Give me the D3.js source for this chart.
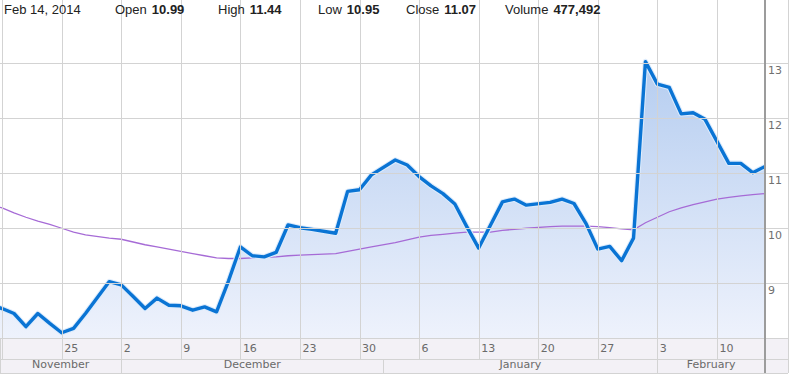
<!DOCTYPE html>
<html><head><meta charset="utf-8">
<script src="https://cdn.jsdelivr.net/npm/d3@7"></script>
<style>body{margin:0;background:#fff}svg{display:block}</style>
</head><body>
<svg id="c" width="794" height="375"></svg>
<script>
// ---------- data ----------
const dates = ["2013-11-15","2013-11-18","2013-11-19","2013-11-20","2013-11-21","2013-11-22",
"2013-11-25","2013-11-26","2013-11-27","2013-11-29",
"2013-12-02","2013-12-03","2013-12-04","2013-12-05","2013-12-06",
"2013-12-09","2013-12-10","2013-12-11","2013-12-12","2013-12-13",
"2013-12-16","2013-12-17","2013-12-18","2013-12-19","2013-12-20",
"2013-12-23","2013-12-24","2013-12-26","2013-12-27",
"2013-12-30","2013-12-31","2014-01-02","2014-01-03",
"2014-01-06","2014-01-07","2014-01-08","2014-01-09","2014-01-10",
"2014-01-13","2014-01-14","2014-01-15","2014-01-16","2014-01-17",
"2014-01-21","2014-01-22","2014-01-23","2014-01-24",
"2014-01-27","2014-01-28","2014-01-29","2014-01-30","2014-01-31",
"2014-02-03","2014-02-04","2014-02-05","2014-02-06","2014-02-07",
"2014-02-10","2014-02-11","2014-02-12","2014-02-13","2014-02-14"];
const closes = [8.60,8.53,8.44,8.20,8.44,8.26,
8.09,8.17,8.44,9.02,
8.96,8.75,8.53,8.72,8.59,
8.58,8.50,8.56,8.47,9.03,
9.65,9.49,9.47,9.55,10.05,
10.00,9.97,9.90,10.66,
10.69,10.96,11.23,11.14,
10.93,10.76,10.62,10.43,10.02,
9.63,10.05,10.47,10.52,10.41,
10.46,10.52,10.44,10.08,
9.61,9.66,9.40,9.81,13.02,
12.61,12.55,12.07,12.09,11.97,
11.57,11.17,11.17,11.00,11.11];
const movingAvg = [10.42,10.36,10.27,10.19,10.12,10.06,
9.99,9.92,9.87,9.81,
9.79,9.74,9.69,9.65,9.61,
9.57,9.53,9.49,9.45,9.44,
9.44,9.45,9.46,9.47,9.49,
9.50,9.51,9.53,9.57,
9.61,9.65,9.73,9.78,
9.83,9.86,9.88,9.90,9.92,
9.92,9.92,9.95,9.97,9.99,
10.02,10.03,10.03,10.03,
10.02,10.00,9.98,9.96,10.09,
10.19,10.29,10.36,10.42,10.47,
10.52,10.55,10.58,10.60,10.62];
const yTicks = [9,10,11,12,13];
const weekTicks = ["2013-11-18","2013-11-25","2013-12-02","2013-12-09","2013-12-16","2013-12-23","2013-12-30",
"2014-01-06","2014-01-13","2014-01-20","2014-01-27","2014-02-03","2014-02-10"];
const weekLabels = ["","25","2","9","16","23","30","6","13","20","27","3","10"];
const monthNames = ["November","December","January","February"];
const monthStarts = ["2013-11-01","2013-12-01","2014-01-01","2014-02-01"];
const headerDate = "Feb 14, 2014";
const headerLabels = ["Open","High","Low","Close","Volume"];
const headerValues = ["10.99","11.44","10.95","11.07","477,492"];

// ---------- helpers ----------
const parse = d3.utcParse("%Y-%m-%d");
const origin = parse("2013-11-18");
function wdIndex(d){
  const days = Math.round((d - origin)/864e5);
  const w = Math.floor(days/7), r = days - w*7;
  return w*5 + Math.min(r,5);
}
const W = 794, plotR = 765, plotB = 338, axisR = 788;
const x = d3.scaleLinear().domain([0,64]).range([2.1,764.6]);
const y = d3.scaleLinear().domain([8,13]).range([337.7,62.7]);
const xd = s => x(wdIndex(parse(s)));
const px = v => Math.round(v)+0.5;

const svg = d3.select("#c");
const defs = svg.append("defs");
defs.append("clipPath").attr("id","clip").append("rect").attr("x",0).attr("y",0).attr("width",plotR).attr("height",plotB);
const grad = defs.append("linearGradient").attr("id","g").attr("gradientUnits","userSpaceOnUse")
  .attr("x1",0).attr("x2",0).attr("y1",y(13)).attr("y2",plotB);
grad.append("stop").attr("offset",0).attr("stop-color","#b5cdf0");
grad.append("stop").attr("offset",1).attr("stop-color","#eef2fc");

svg.append("rect").attr("width",W).attr("height",375).attr("fill","#fff");
// axis rows background
svg.append("rect").attr("x",0).attr("y",plotB).attr("width",axisR).attr("height",35).attr("fill","#f3f1f6");

const pts = dates.map((d,i)=>({x:xd(d), c:closes[i], m:movingAvg[i]}));
const plot = svg.append("g").attr("clip-path","url(#clip)");
plot.append("path").datum(pts)
  .attr("d", d3.area().x(d=>d.x).y0(plotB).y1(d=>y(d.c)))
  .attr("fill","url(#g)");

// gridlines
const grid = svg.append("g").attr("stroke","#d3d3d3").attr("stroke-width",1).attr("shape-rendering","crispEdges");
grid.selectAll(".v").data(weekTicks).join("line")
  .attr("x1",d=>px(xd(d))).attr("x2",d=>px(xd(d))).attr("y1",0).attr("y2",359);
grid.selectAll(".h").data(yTicks).join("line")
  .attr("x1",0).attr("x2",axisR).attr("y1",d=>px(y(d))).attr("y2",d=>px(y(d)));
[plotB, 359, 373].forEach(v=>grid.append("line").attr("x1",0).attr("x2",axisR).attr("y1",v+0.5).attr("y2",v+0.5));
const bounds = monthStarts.map((s,i)=> i===0 ? 0 : xd(s)).concat([plotR]);
grid.selectAll(".m").data(bounds.slice(1,-1)).join("line")
  .attr("x1",d=>px(d)).attr("x2",d=>px(d)).attr("y1",359).attr("y2",373);
grid.append("line").attr("x1",0.5).attr("x2",0.5).attr("y1",plotB).attr("y2",373);
grid.append("line").attr("x1",axisR+0.5).attr("x2",axisR+0.5).attr("y1",0).attr("y2",373);

// lines
plot.append("path").datum(pts).attr("fill","none").attr("stroke","#a66bd6").attr("stroke-width",1.3)
  .attr("d", d3.line().x(d=>d.x).y(d=>y(d.m)));
plot.append("path").datum(pts).attr("fill","none").attr("stroke","#dcebfc").attr("stroke-width",5.5)
  .attr("stroke-linejoin","round").attr("d", d3.line().x(d=>d.x).y(d=>y(d.c)));
plot.append("path").datum(pts).attr("fill","none").attr("stroke","#0a74d4").attr("stroke-width",3.4)
  .attr("stroke-linejoin","round").attr("d", d3.line().x(d=>d.x).y(d=>y(d.c)));

// right border
svg.append("line").attr("x1",plotR).attr("x2",plotR).attr("y1",0).attr("y2",373)
  .attr("stroke","#9c9c9c").attr("stroke-width",2);

// right axis labels
svg.append("g").selectAll("text").data(yTicks).join("text")
  .attr("x",768).attr("y",d=>y(d)+11).text(d=>d)
  .attr("font-family","DejaVu Sans, Verdana, sans-serif").attr("font-size",11).attr("fill","#707070");

// week labels
svg.append("g").selectAll("text").data(weekTicks).join("text")
  .attr("x",d=>xd(d)+2.5).attr("y",352).text((d,i)=>weekLabels[i])
  .attr("font-family","DejaVu Sans, Verdana, sans-serif").attr("font-size",11).attr("fill","#6a6a6a");
// month labels
svg.append("g").selectAll("text").data(monthNames).join("text")
  .attr("x",(d,i)=>(bounds[i]+bounds[i+1])/2).attr("y",368).attr("text-anchor","middle").text(d=>d)
  .attr("font-family","DejaVu Sans, Verdana, sans-serif").attr("font-size",11).attr("fill","#6a6a6a");

// header
const hx = [115,218,318,406,505];
const hf = "Liberation Sans, Arial, sans-serif";
svg.append("text").attr("x",4).attr("y",14).attr("font-family",hf).attr("font-size",13).attr("fill","#222").text(headerDate);
headerLabels.forEach((l,i)=>{
  const t = svg.append("text").attr("x",hx[i]).attr("y",14).attr("font-family",hf).attr("font-size",13).attr("fill","#222");
  t.append("tspan").text(l);
  t.append("tspan").attr("dx",5).attr("font-weight","bold").text(headerValues[i]);
});
</script>
</body></html>
